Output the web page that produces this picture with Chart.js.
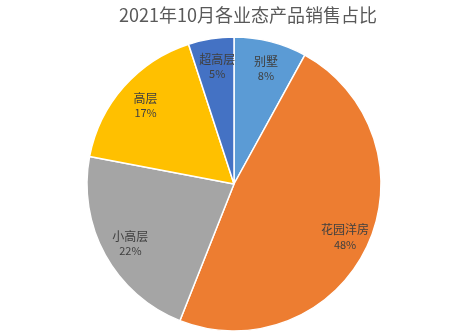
<!DOCTYPE html>
<html>
<head>
<meta charset="utf-8">
<script src="https://cdn.jsdelivr.net/npm/chart.js@4/dist/chart.umd.min.js"></script>
<style>
  html, body { margin: 0; padding: 0; background: #fff; }
  #wrap { width: 451px; height: 335px; }
</style>
</head>
<body>
<div id="wrap"><canvas id="pie"></canvas></div>
<script>
  // data, clockwise from 12 o'clock
  const categories = ['别墅', '花园洋房', '小高层', '高层', '超高层'];
  const shares = [8, 48, 22, 17, 5];
  const sliceColors = ['#5B9BD5', '#ED7D31', '#A5A5A5', '#FFC000', '#4472C4'];
  const chartTitle = '2021年10月各业态产品销售占比';

  const FONT = '"Noto Sans CJK SC", "Microsoft YaHei", sans-serif';

  // title sits a bit right of the pie centre in the original, so draw it by hand
  const titleText = {
    id: 'titleText',
    afterDraw(chart) {
      const ctx = chart.ctx;
      ctx.save();
      ctx.font = '18px ' + FONT;
      ctx.fillStyle = '#595959';
      ctx.textAlign = 'center';
      ctx.textBaseline = 'middle';
      ctx.fillText(chartTitle, 248, 15);
      ctx.restore();
    }
  };

  // name + percent inside each slice
  const sliceLabels = {
    id: 'sliceLabels',
    afterDatasetsDraw(chart) {
      const ctx = chart.ctx;
      const meta = chart.getDatasetMeta(0);
      ctx.save();
      ctx.textAlign = 'center';
      ctx.textBaseline = 'middle';
      ctx.fillStyle = '#404040';
      meta.data.forEach((arc, i) => {
        const p = arc.getProps(['x', 'y', 'startAngle', 'endAngle', 'outerRadius'], true);
        const mid = (p.startAngle + p.endAngle) / 2;
        const r = p.outerRadius * 0.82;
        const cx = p.x + Math.cos(mid) * r + 2;
        const cy = p.y + Math.sin(mid) * r;
        ctx.font = '12px ' + FONT;
        ctx.fillText(categories[i], cx, cy - 6);
        ctx.font = '11px ' + FONT;
        ctx.fillText(shares[i] + '%', cx, cy + 9);
      });
      ctx.restore();
    }
  };

  new Chart(document.getElementById('pie'), {
    type: 'pie',
    data: {
      labels: categories,
      datasets: [{
        data: shares,
        backgroundColor: sliceColors,
        borderColor: '#ffffff',
        borderWidth: 1.5,
        radius: 147
      }]
    },
    options: {
      responsive: true,
      maintainAspectRatio: false,
      animation: false,
      layout: { padding: { left: 17, right: 0, top: 37, bottom: 4 } },
      plugins: {
        legend: { display: false },
        tooltip: { enabled: false },
        title: { display: false }
      }
    },
    plugins: [sliceLabels, titleText]
  });
</script>
</body>
</html>
